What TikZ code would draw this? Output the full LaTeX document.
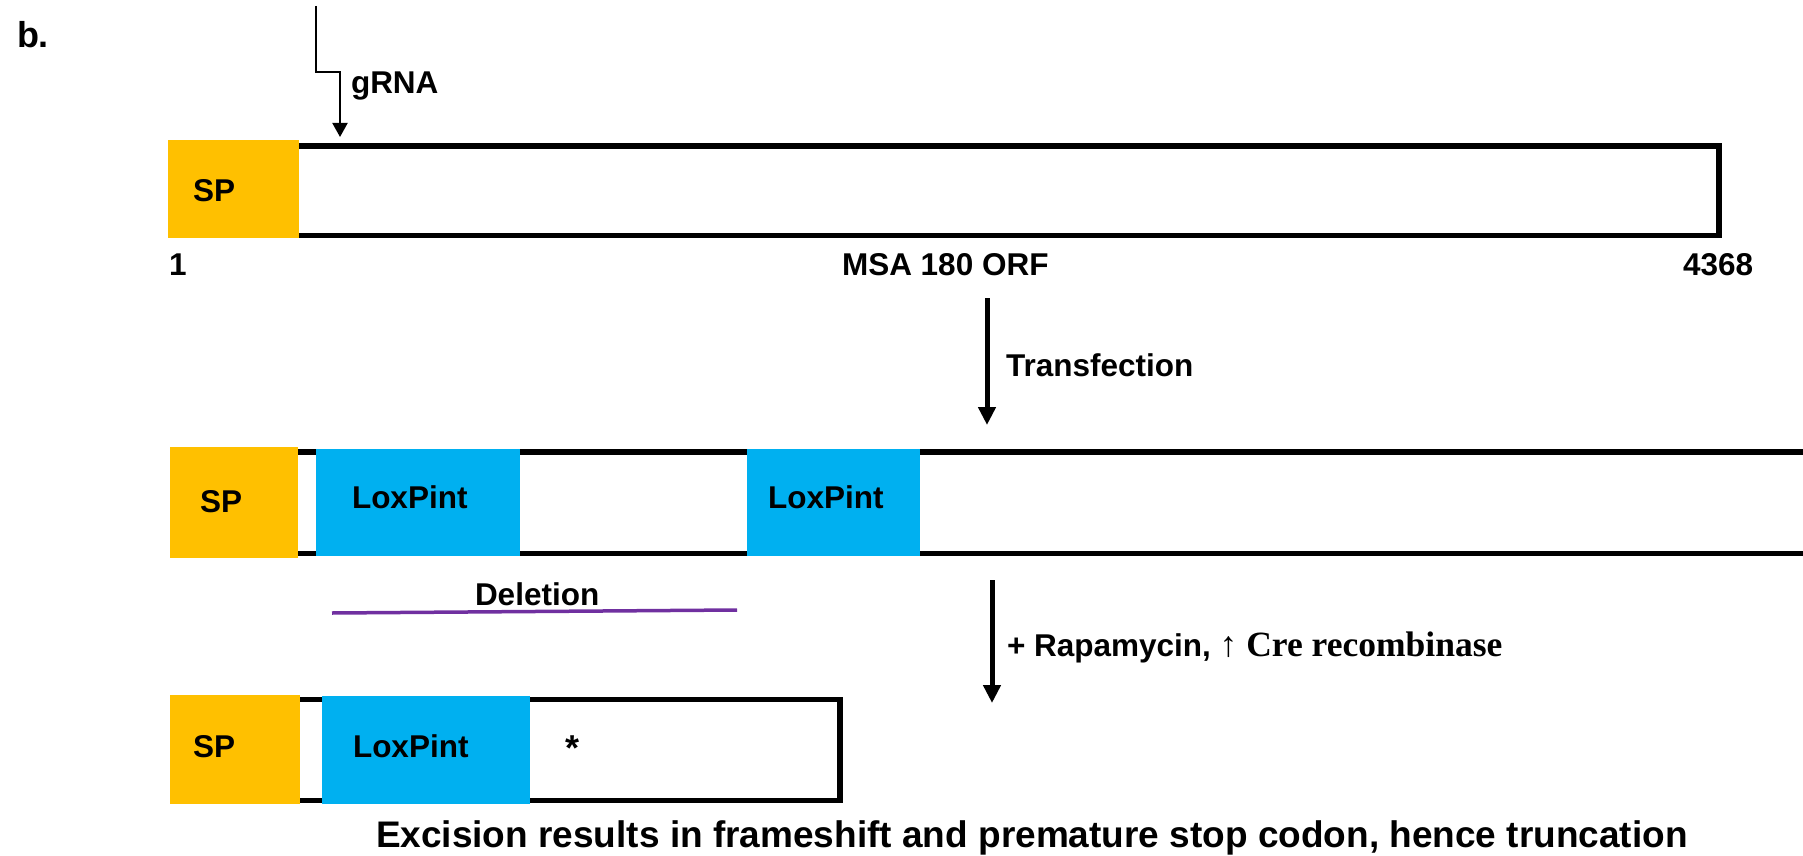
\documentclass[tikz,border=0pt]{standalone}
\usepackage{fontspec}
\setmainfont{Liberation Sans}
\newfontfamily\crefont{Liberation Serif}
\usetikzlibrary{arrows.meta}
\definecolor{spgold}{HTML}{FFC000}
\definecolor{loxblue}{HTML}{00B0F0}
\definecolor{delpurple}{HTML}{7030A0}
\begin{document}
\begin{tikzpicture}[x=1pt,y=-1pt,
  lbl/.style={font=\fontsize{31.5}{36}\selectfont\bfseries, inner sep=0pt, outer sep=0pt, anchor=base west},
  orfbox/.style={draw=black, line width=5.5pt, inner sep=0pt, outer sep=0pt, anchor=north west},
  orfline/.style={draw=black, line width=5.5pt},
  spbox/.style={fill=spgold, draw=none, inner sep=0pt, outer sep=0pt, anchor=north west},
  loxbox/.style={fill=loxblue, draw=none, inner sep=0pt, outer sep=0pt, anchor=north west},
  thinarrow/.style={line width=2pt, -{Triangle[width=15pt,length=14pt]}},
  bigarrow/.style={line width=5pt, -{Triangle[width=17pt,length=18pt]}},
  delline/.style={draw=delpurple, line width=3.5pt}
]
\useasboundingbox (0,0) rectangle (1803,856);
\clip (0,0) rectangle (1803,856);

% panel letter
\node[lbl, font=\fontsize{36}{40}\selectfont\bfseries] (panel) at (17,48) {b.};

% ---- wild-type open reading frame ----
\node[orfbox, minimum width=1546pt, minimum height=89.5pt] (orf1) at (173,146) {};
\node[spbox, minimum width=131pt, minimum height=98pt] (sp1) at (168,140) {};
\node[lbl] (sp1txt) at (193,201) {SP};
\node[lbl] (start) at (169,275) {1};
\node[lbl] (orfname) at (842,275) {MSA 180 ORF};
\node[lbl] (stop) at (1683,275) {4368};

% guide RNA target site
\coordinate (g0) at (316,6);
\coordinate (g1) at (340,137);
\draw[thinarrow] (g0) -- ++(0,66) -| (g1);
\node[lbl] (grna) at (351,94) {gRNA};

% transfection step
\coordinate (t0) at (987,298);
\coordinate (t1) at (987,425);
\draw[bigarrow] (t0) -- (t1);
\node[lbl] (transf) at (1006,376) {Transfection};

% ---- floxed locus ----
\coordinate (m0) at (175,452);
\coordinate (m1) at (1830,452);
\coordinate (m2) at (175,553.5);
\coordinate (m3) at (1830,553.5);
\draw[orfline] (m0) -- (m1);
\draw[orfline] (m2) -- (m3);
\node[spbox, minimum width=128pt, minimum height=111pt] (sp2) at (170,447) {};
\node[loxbox, minimum width=204pt, minimum height=107pt] (lox1) at (316,449) {};
\node[loxbox, minimum width=173pt, minimum height=107pt] (lox2) at (747,449) {};
\node[lbl] (sp2txt) at (200,512) {SP};
\node[lbl] (lox1txt) at (352,508) {LoxPint};
\node[lbl] (lox2txt) at (768,508) {LoxPint};

% excised region
\coordinate (d0) at (332,613);
\coordinate (d1) at (737,610);
\draw[delline] (d0) -- (d1);
\node[lbl] (deltxt) at (475,605) {Deletion};

% rapamycin induced recombination
\coordinate (r0) at (992,580);
\coordinate (r1) at (992,703);
\draw[bigarrow] (r0) -- (r1);
\node[lbl] (rapa) at (1007,656) {+ Rapamycin, {\crefont\fontsize{35.5}{40}\selectfont\bfseries ↑ Cre recombinase}};

% ---- truncated product ----
\node[orfbox, minimum width=667pt, minimum height=101pt] (orf3) at (173,699.5) {};
\node[spbox, minimum width=130pt, minimum height=109pt] (sp3) at (170,695) {};
\node[loxbox, minimum width=208pt, minimum height=108pt] (lox3) at (322,696) {};
\node[lbl] (sp3txt) at (193,757) {SP};
\node[lbl] (lox3txt) at (353,757) {LoxPint};
\node[lbl, font=\fontsize{36}{40}\selectfont\bfseries] (stopcodon) at (565,760) {*};

\node[lbl, font=\fontsize{37}{42}\selectfont\bfseries] (summary) at (376,847)
  {Excision results in frameshift and premature stop codon, hence truncation};
\end{tikzpicture}
\end{document}
